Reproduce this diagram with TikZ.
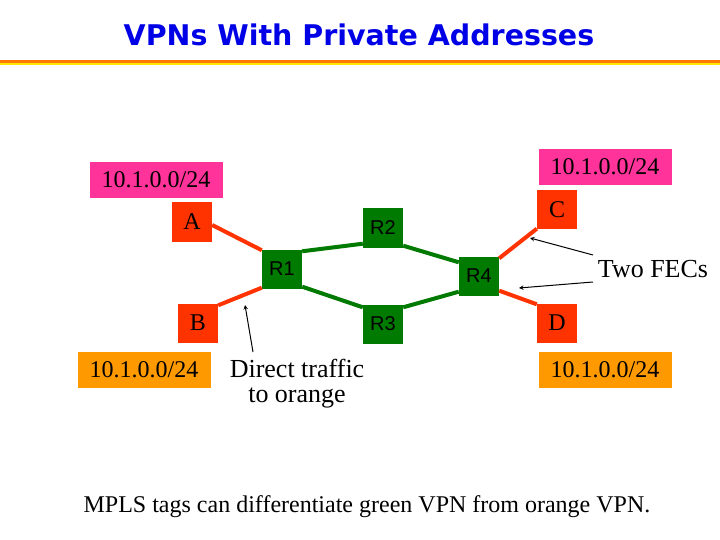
\documentclass[tikz,border=0pt]{standalone}
\usepackage{fontspec}
\usetikzlibrary{calc}
\setmainfont{Liberation Serif}
\newfontfamily\arialf{Liberation Sans}
\newfontfamily\titlef{DejaVu Sans}
\definecolor{ored}{HTML}{FF3300}
\definecolor{vgreen}{HTML}{007A00}
\definecolor{vpink}{HTML}{FF3399}
\definecolor{vorange}{HTML}{FF9900}
\definecolor{tblue}{HTML}{0000E6}
\begin{document}
\begin{tikzpicture}[x=1pt,y=-1pt,
  cust/.style={fill=ored,minimum width=40pt,minimum height=39pt,inner sep=0pt,font=\fontsize{24}{26}\selectfont},
  rtr/.style={fill=vgreen,minimum width=40pt,minimum height=39pt,inner sep=0pt,font=\arialf\fontsize{20}{22}\selectfont},
  pfx/.style={minimum width=133pt,minimum height=36pt,inner sep=0pt,font=\fontsize{24}{26}\selectfont},
  olink/.style={draw=ored,line width=4pt},
  glink/.style={draw=vgreen,line width=4pt},
  ann/.style={font=\fontsize{26}{25}\selectfont,align=center},
  pt/.style={-stealth,line width=1pt}]
\useasboundingbox (0,0) rectangle (720,540);
\node[font=\titlef\bfseries\fontsize{28.5}{32}\selectfont,text=tblue] (title) at (359,35) {VPNs With Private Addresses};
\fill[vorange!80!red] (0,60) rectangle (720,63);
\fill[yellow!90!orange] (0,63) rectangle (720,65);
\node[pfx,fill=vpink] (pa) at (156,180) {10.1.0.0/24};
\node[pfx,fill=vpink] (pc) at (605,167) {10.1.0.0/24};
\node[pfx,fill=vorange] (pb) at (144,370) {10.1.0.0/24};
\node[pfx,fill=vorange] (pd) at (605,370) {10.1.0.0/24};
\node[cust] (A) at (192,222) {A};
\node[cust] (B) at (198,323) {B};
\node[cust] (C) at (557,210) {C};
\node[cust] (D) at (557,323) {D};
\node[rtr] (R1) at (282,269) {R1};
\node[rtr] (R2) at (383,228) {R2};
\node[rtr] (R3) at (383,324) {R3};
\node[rtr] (R4) at (479,276) {R4};
\draw[olink] ($(A.east)+(0,3)$) -- ($(R1.north west)+(0,1)$);
\draw[olink] ($(B.north east)+(0,2)$) -- ($(R1.south west)+(0,-1)$);
\draw[glink] ($(R1.north east)+(0,2)$) -- ($(R2.south west)+(0,-4)$);
\draw[glink] ($(R2.south east)+(0,-2)$) -- ($(R4.north west)+(0,6)$);
\draw[glink] ($(R1.south east)+(0,-2)$) -- ($(R3.north west)+(0,3)$);
\draw[glink] ($(R3.north east)+(0,3)$) -- ($(R4.south west)+(0,-4)$);
\draw[olink] ($(C.south west)+(0,-1)$) -- ($(R4.north east)+(0,2)$);
\draw[olink] ($(R4.south east)+(0,-5)$) -- ($(D.north west)+(0,1)$);
\node[ann] (dt) at (297,384) {Direct traffic\\to orange};
\node[ann] (fec) at (653,269) {Two FECs};
\coordinate (dtt) at (245,305);
\coordinate (fc) at (530,238);
\coordinate (fd) at (519,288);
\draw[pt] (253,352) -- (dtt);
\draw[pt] (593,255) -- (fc);
\draw[pt] (593,282) -- (fd);
\node[font=\fontsize{24}{26}\selectfont] (note) at (367,507) {MPLS tags can differentiate green VPN from orange VPN.};
\end{tikzpicture}
\end{document}
